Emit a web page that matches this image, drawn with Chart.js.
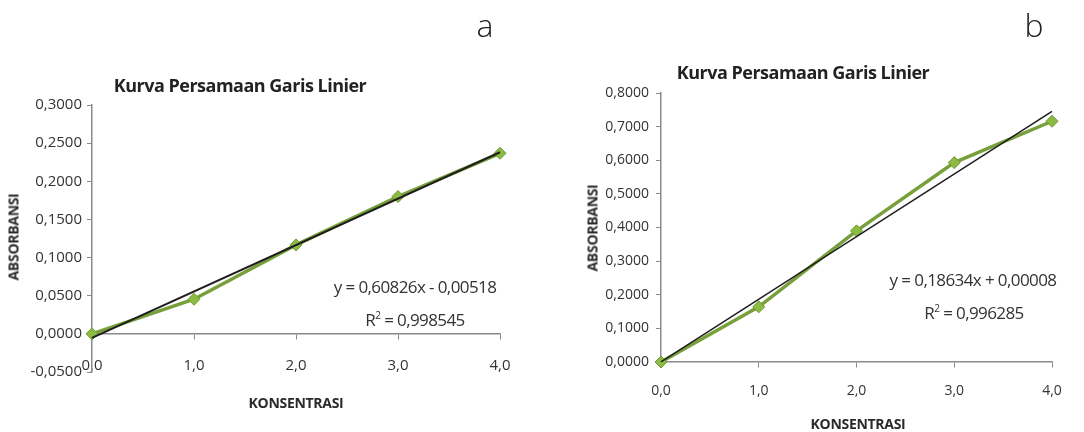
<!DOCTYPE html>
<html>
<head>
<meta charset="utf-8">
<script src="https://cdn.jsdelivr.net/npm/chart.js@4"></script>
<style>
  body { margin: 0; background: #fff; font-family: "Open Sans", sans-serif; }
  #page { position: relative; width: 1084px; height: 432px; overflow: hidden; }
  .box { position: absolute; top: 0; height: 432px; }
  .txt { position: absolute; transform: translate(-50%, -50%); white-space: nowrap; color: #333; }
  .judul { font-weight: bold; font-size: 18px; color: #222; letter-spacing: -0.5px; }
  .sumbu { font-weight: bold; font-size: 14px; color: #2a2a2a; letter-spacing: -0.3px; }
  .vert { transform: translate(-50%, -50%) rotate(-90deg); }
  .eq { font-size: 17px; letter-spacing: -0.6px; line-height: 1; }
  .eq sup { font-size: 10px; }
  .huruf { font-size: 32px; color: #222; font-weight: 300; }
</style>
</head>
<body>
<div id="page">
  <div class="box" style="left:0;width:540px"><canvas id="chartA"></canvas></div>
  <div class="box" style="left:540px;width:544px"><canvas id="chartB"></canvas></div>

  <div class="txt huruf" style="left:485px;top:24px">a</div>
  <div class="txt huruf" style="left:1034px;top:24px">b</div>

  <div class="txt judul" style="left:240px;top:85px">Kurva Persamaan Garis Linier</div>
  <div class="txt judul" style="left:803px;top:72px">Kurva Persamaan Garis Linier</div>

  <div class="txt sumbu vert" style="left:13px;top:237px">ABSORBANSI</div>
  <div class="txt sumbu vert" style="left:592px;top:228px">ABSORBANSI</div>
  <div class="txt sumbu" style="left:296px;top:402px">KONSENTRASI</div>
  <div class="txt sumbu" style="left:858px;top:423px">KONSENTRASI</div>

  <div class="txt eq" style="left:415px;top:286px">y = 0,60826x - 0,00518</div>
  <div class="txt eq" style="left:415px;top:319px">R<sup>2</sup> = 0,998545</div>
  <div class="txt eq" style="left:973px;top:279px">y = 0,18634x + 0,00008</div>
  <div class="txt eq" style="left:974px;top:312px">R<sup>2</sup> = 0,996285</div>
</div>

<script>
// data
const konsentrasi = [0, 1, 2, 3, 4];
const absorbansiA = [0.0000, 0.0454, 0.1166, 0.1800, 0.2367];
const absorbansiB = [0.0000, 0.1640, 0.3900, 0.5930, 0.7160];

// garis trend (ujung kiri dan kanan)
const trendX = [0, 4];
const trendA = [-0.0052, 0.2381];
const trendB = [0.0001, 0.7454];

const xTicks = ["0,0", "1,0", "2,0", "3,0", "4,0"];
const yTicksA = ["-0,0500", "0,0000", "0,0500", "0,1000", "0,1500", "0,2000", "0,2500", "0,3000"];
const yTicksB = ["0,0000", "0,1000", "0,2000", "0,3000", "0,4000", "0,5000", "0,6000", "0,7000", "0,8000"];

const hijau = "#77a03a";
const abu = "#8a8a8a";

function buatGrafik(id, ys, trend, yTicks, opt) {
  const titik = konsentrasi.map((x, i) => ({ x: x, y: ys[i] }));
  const garis = trendX.map((x, i) => ({ x: x, y: trend[i] }));

  new Chart(document.getElementById(id), {
    type: "line",
    data: {
      datasets: [
        {
          data: garis,
          borderColor: "#1e1e1e",
          borderWidth: opt.trendWidth,
          pointRadius: 0,
          clip: false,
          order: 0
        },
        {
          data: titik,
          borderColor: hijau,
          borderWidth: 3.5,
          pointStyle: "rectRot",
          pointRadius: 6,
          pointBackgroundColor: "#8cbb45",
          pointBorderColor: "#6f9832",
          pointBorderWidth: 1,
          clip: false,
          order: 1
        }
      ]
    },
    options: {
      responsive: true,
      maintainAspectRatio: false,
      animation: false,
      layout: { padding: opt.padding },
      plugins: { legend: { display: false }, tooltip: { enabled: false } },
      scales: {
        x: {
          type: "linear",
          position: { y: 0 },
          min: 0,
          max: 4,
          grid: { drawOnChartArea: false, tickLength: 5, tickColor: abu },
          border: { color: abu, width: 1.5 },
          ticks: {
            stepSize: 1,
            padding: opt.xPad,
            color: "#333",
            font: { family: "Open Sans", size: opt.fontSize },
            callback: (v, i) => xTicks[i]
          }
        },
        y: {
          min: opt.yMin,
          max: opt.yMax,
          grid: { drawOnChartArea: false, tickLength: 5, tickColor: abu },
          border: { color: abu, width: 1.5 },
          ticks: {
            stepSize: opt.step,
            padding: opt.yPad,
            color: "#333",
            font: { family: "Open Sans", size: opt.fontSize },
            callback: (v, i) => yTicks[i]
          },
          afterFit: s => { s.width = opt.yWidth; }
        }
      }
    }
  });
}

buatGrafik("chartA", absorbansiA, trendA, yTicksA, {
  padding: { left: 0, top: 105, right: 40, bottom: 60 },
  yMin: -0.05, yMax: 0.3, step: 0.05,
  yWidth: 92, fontSize: 15, xPad: 18, yPad: 5, trendWidth: 2
});

buatGrafik("chartB", absorbansiB, trendB, yTicksB, {
  padding: { left: 0, top: 93, right: 32, bottom: 70 },
  yMin: 0, yMax: 0.8, step: 0.1,
  yWidth: 121, fontSize: 14, xPad: 16, yPad: 7, trendWidth: 1.5
});
</script>
</body>
</html>
